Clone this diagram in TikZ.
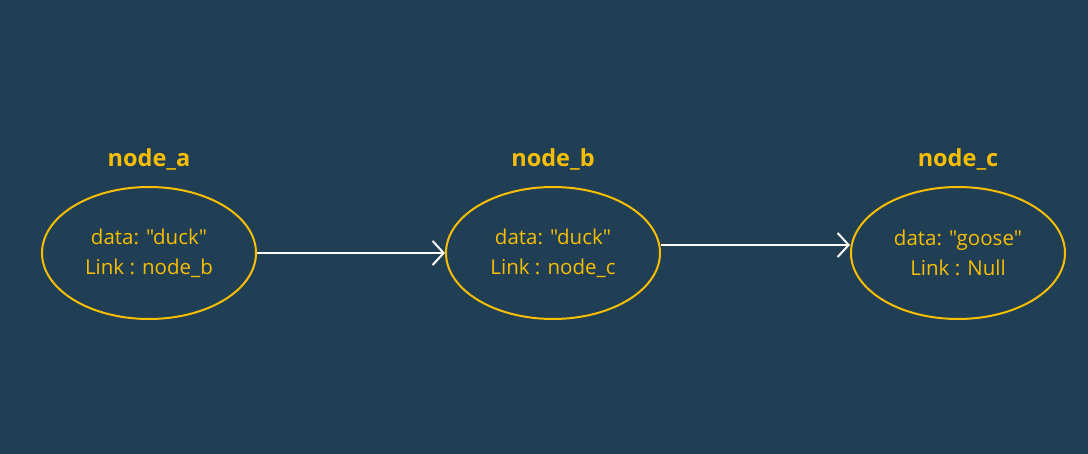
\documentclass[tikz,border=0pt]{standalone}
\usepackage{fontspec}
\setmainfont{Open Sans}[Ligatures=TeXOff]
\usepackage{tikz}
\usetikzlibrary{arrows.meta,shapes.geometric}
\definecolor{bgblue}{HTML}{213F54}
\definecolor{duckyellow}{HTML}{F7BE00}
\tikzset{
	llnode/.style={ellipse, draw=duckyellow, line width=2pt, minimum width=214pt, minimum height=132pt, inner sep=0pt, text=duckyellow, font=\fontsize{20.5}{30}\selectfont, align=center},
	lltitle/.style={text=duckyellow, font=\fontsize{23.5}{28}\selectfont\bfseries},
	link/.style={draw=white, line width=2pt, -{Straight Barb[length=11pt, width=24pt, line width=2pt]}}
}
\begin{document}
\begin{tikzpicture}[x=1pt, y=-1pt]
		\fill [bgblue] (0,0) rectangle (1088,454);
		\useasboundingbox (0,0) rectangle (1088,454);
		% the three list nodes
		\node [llnode] (a) at (149,253) {data: "duck"\\Link : node\_b};
		\node [llnode] (b) at (553,253) {data: "duck"\\Link : node\_c};
		\node [llnode] (c) at (958,253) {data: "goose"\\Link : Null};
		\node [lltitle] (ta) at (149,159) {node\_a};
		\node [lltitle] (tb) at (553,159) {node\_b};
		\node [lltitle] (tc) at (958,159) {node\_c};
		% links
		\draw [link] (a.east) -- (b.west);
		\draw [link] ([yshift=8pt]b.east) -- ([yshift=8pt]c.west);
	\end{tikzpicture}
\end{document}
